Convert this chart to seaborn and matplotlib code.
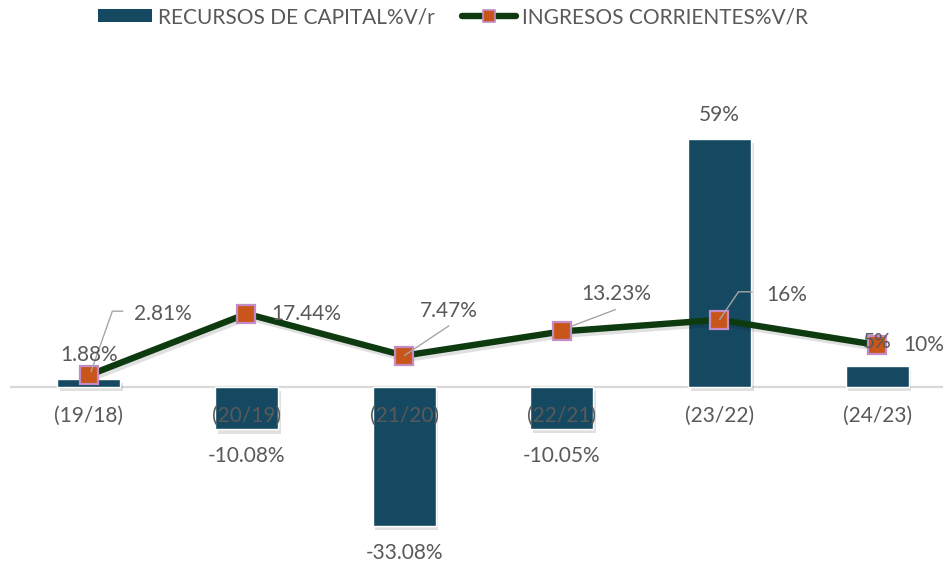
import numpy as np
import pandas as pd
import matplotlib
matplotlib.use("Agg")
import matplotlib.pyplot as plt
import matplotlib.patheffects as pe
import matplotlib.transforms as mtransforms
from matplotlib.lines import Line2D
from matplotlib.patches import Patch
import seaborn as sns

# --- data -------------------------------------------------------------
periodos = ["(19/18)", "(20/19)", "(21/20)", "(22/21)", "(23/22)", "(24/23)"]
capital_vr = [1.88, -10.08, -33.08, -10.05, 59.0, 5.0]          # RECURSOS DE CAPITAL %V/r
corrientes_vr = [2.81, 17.44, 7.47, 13.23, 16.0, 10.0]         # INGRESOS CORRIENTES %V/R
capital_txt = ["1.88%", "-10.08%", "-33.08%", "-10.05%", "59%", "5%"]
corrientes_txt = ["2.81%", "17.44%", "7.47%", "13.23%", "16%", "10%"]

serie_barras = "RECURSOS DE CAPITAL%V/r"
serie_linea = "INGRESOS CORRIENTES%V/R"

# --- style ------------------------------------------------------------
BAR = "#154962"
LINE = "#0e3a10"
MK_FACE = "#c8561a"
MK_EDGE = "#c48cc4"
TXT = "#595959"
BASE = "#d9d9d9"
LEADER = "#a6a6a6"

sns.set_theme(style="white")
plt.rcParams["font.family"] = ["Lato", "DejaVu Sans"]
FS = 15

df = pd.DataFrame({"periodo": periodos, "capital": capital_vr, "corrientes": corrientes_vr})

fig = plt.figure(figsize=(9.43, 5.64), dpi=100)
ax = fig.add_axes([10 / 943, 9 / 564, 946 / 943, 462 / 564])

sns.barplot(data=df, x="periodo", y="capital", color=BAR, saturation=1,
            width=0.4, ax=ax, zorder=2)
for bar in ax.patches:
    bar.set_path_effects([pe.withSimplePatchShadow(offset=(2, -3), shadow_rgbFace="#000000", alpha=0.12),
                          pe.Normal()])

n_before = len(ax.lines)
sns.pointplot(data=df, x="periodo", y="corrientes", color=LINE, markers="s",
              linestyles="-", errorbar=None, ax=ax)
for ln in ax.lines[n_before:]:
    ln.set_linewidth(4.6)
    ln.set_color(LINE)
    ln.set_marker("s")
    ln.set_markersize(12.5)
    ln.set_markerfacecolor(MK_FACE)
    ln.set_markeredgecolor(MK_EDGE)
    ln.set_markeredgewidth(1.6)
    ln.set_zorder(4)

# soft drop shadow under the line
shadow_tr = ax.transData + mtransforms.Affine2D().translate(2, -3)
ax.plot(range(len(periodos)), corrientes_vr, color="#000000", alpha=0.12, lw=5,
        transform=shadow_tr, zorder=3, solid_joinstyle="round")

ax.set_xlim(-0.5, 5.5)
ax.set_ylim(-40, 70)
ax.axhline(0, color=BASE, lw=1.6, zorder=1)
for s in ax.spines.values():
    s.set_visible(False)
ax.set_xticks([])
ax.set_yticks([])
ax.set_xlabel("")
ax.set_ylabel("")

# category labels sit just under the zero line, on top of the bars
for i, p in enumerate(periodos):
    ax.annotate(p, (i, 0), xytext=(0, -29), textcoords="offset pixels",
                ha="center", va="center", fontsize=FS, color=TXT, zorder=6)

# bar value labels
for i, (v, t) in enumerate(zip(capital_vr, capital_txt)):
    off = 24 if v >= 0 else -27
    ax.annotate(t, (i, v), xytext=(0, off), textcoords="offset pixels",
                ha="center", va="center", fontsize=FS, color=TXT, zorder=7)

# line value labels (pixel offsets from each marker) and their leader lines
label_offsets = [(74, 61), (60, 0), (45, 45), (54, 37), (67, 25), (47, 0)]
leaders = [
    [(2, 3), (23.5, 64), (34.5, 64)],
    None,
    [(0, 0), (45, 30)],
    [(9, 5), (54, 22)],
    [(0, 0), (19, 28), (33, 28)],
    None,
]

fig.canvas.draw()
to_disp = ax.transData
to_data = ax.transData.inverted()
for i, (v, t, off, ld) in enumerate(zip(corrientes_vr, corrientes_txt, label_offsets, leaders)):
    ax.annotate(t, (i, v), xytext=off, textcoords="offset pixels",
                ha="center", va="center", fontsize=FS, color=TXT, zorder=7)
    if ld is not None:
        base = to_disp.transform((i, v))
        pts = to_data.transform(np.array(ld) + base)
        ax.plot(pts[:, 0], pts[:, 1], color=LEADER, lw=1.0, zorder=5,
                solid_capstyle="butt")

# legend
handles = [
    Patch(facecolor=BAR, edgecolor="none", label=serie_barras),
    Line2D([0], [0], color=LINE, lw=4.6, marker="s", markersize=9,
           markerfacecolor=MK_FACE, markeredgecolor=MK_EDGE, markeredgewidth=1.2,
           label=serie_linea),
]
fig.legend(handles=handles, loc="center", bbox_to_anchor=(453 / 943, 1 - 17 / 564),
           ncol=2, frameon=False, fontsize=FS, labelcolor=TXT,
           handlelength=2.6, handleheight=0.55, handletextpad=0.3,
           columnspacing=1.3, borderaxespad=0, borderpad=0)

fig.savefig("out.png", dpi=100)
